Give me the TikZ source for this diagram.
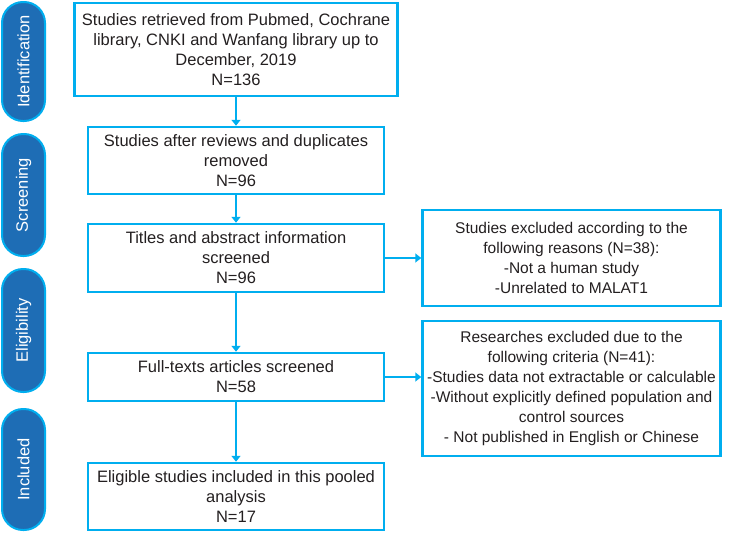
\documentclass[tikz,border=0pt]{standalone}
\usepackage{fontspec}
\setmainfont{Liberation Sans}
\usetikzlibrary{arrows.meta,positioning}
\definecolor{boxColor}{HTML}{00AEEF}
\definecolor{tabColor}{HTML}{1E6DB5}
\definecolor{txtColor}{HTML}{231F20}
\tikzset{stage box/.style={draw=boxColor, line width=2.5pt, text=txtColor, align=center, inner sep=2pt}}
\tikzset{excl box/.style={stage box, inner sep=1pt, font=\fontsize{15.5pt}{20pt}\selectfont}}
\tikzset{phase tab/.style={draw=boxColor, fill=tabColor, line width=2pt, text=white,
	rounded corners=21pt, rotate=90, minimum height=43pt, inner sep=0pt}}
\tikzset{flow/.style={boxColor, line width=2pt}}

\begin{document}
\begin{tikzpicture}[->,>={Triangle[length=6pt,width=9pt]},x=1pt,y=-1pt,
					font=\fontsize{16.5pt}{20pt}\selectfont]
					\useasboundingbox (0,0) rectangle (749,533);
					% phases on the left
					\node[phase tab, minimum width=119pt] at (23.5,61.5)  (p_1) {Identification};
					\node[phase tab, minimum width=122pt] at (23.5,195)   (p_2) {Screening};
					\node[phase tab, minimum width=123pt] at (23.5,330.5) (p_3) {Eligibility};
					\node[phase tab, minimum width=121pt] at (23.5,469.5) (p_4) {Included};
					% main flow
					\node[stage box, minimum width=323pt, minimum height=93pt] at (236,49.5) (s_1)
						{Studies retrieved from Pubmed, Cochrane\\library, CNKI and Wanfang library up to\\December, 2019\\N=136};
					\node[stage box, minimum width=296pt, minimum height=67pt] at (236,160.5) (s_2)
						{Studies after reviews and duplicates\\removed\\N=96};
					\node[stage box, minimum width=296pt, minimum height=68pt] at (236,258) (s_3)
						{Titles and abstract information\\screened\\N=96};
					\node[stage box, minimum width=296pt, minimum height=48pt] at (236,377) (s_4)
						{Full-texts articles screened\\N=58};
					\node[stage box, minimum width=296pt, minimum height=67pt] at (236,496.5) (s_5)
						{Eligible studies included in this pooled\\analysis\\N=17};
					% exclusions
					\node[excl box, minimum width=298pt, minimum height=96pt] at (571.5,258) (x_1)
						{Studies excluded according to the\\following reasons (N=38):\\-Not a human study\\-Unrelated to MALAT1};
					\node[excl box, minimum width=298pt, minimum height=135pt] at (571.5,388.5) (x_2)
						{Researches excluded due to the\\following criteria (N=41):\\-Studies data not extractable or calculable\\-Without explicitly defined population and\\control sources\\- Not published in English or Chinese};
					\path (s_1) edge[flow] (s_2);
					\path (s_2) edge[flow] (s_3);
					\path (s_3) edge[flow] (s_4);
					\path (s_4) edge[flow] (s_5);
					\path (s_3) edge[flow] (x_1);
					\draw[flow] (s_4.east) -- (s_4.east -| x_2.west);
				\end{tikzpicture}
\end{document}
